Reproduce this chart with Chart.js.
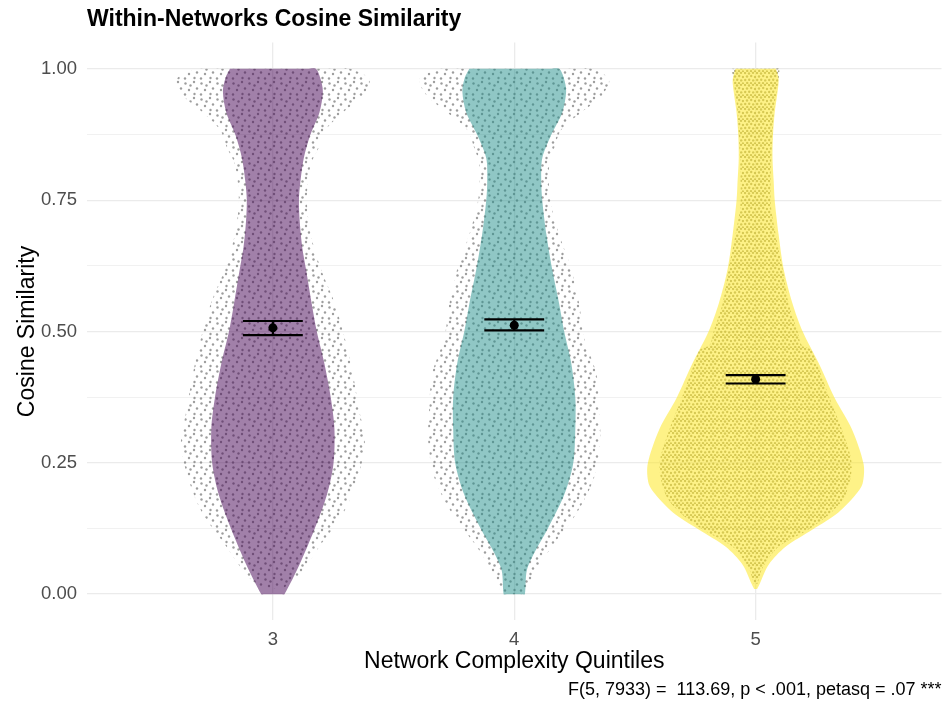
<!DOCTYPE html>
<html><head><meta charset="utf-8">
<script src="https://cdn.jsdelivr.net/npm/chart.js@4.4.1/dist/chart.umd.min.js"></script>
<style>html,body{margin:0;padding:0;background:#fff;}</style>
</head><body>
<canvas id="c" width="946" height="703"></canvas>
<script>
// ---------- data ----------
const categories = [3, 4, 5];
const titleText = 'Within-Networks Cosine Similarity';
const xTitle = 'Network Complexity Quintiles';
const yTitle = 'Cosine Similarity';
const caption = 'F(5, 7933) =  113.69, p < .001, petasq = .07 ***';
const yTickValues = [0, 0.125, 0.25, 0.375, 0.5, 0.625, 0.75, 0.875, 1.0];

// violin outlines: y levels and half-widths (density, in category units)
const v3Levels = [1.00, 0.983, 0.957, 0.917, 0.874, 0.83, 0.785, 0.75, 0.705, 0.659, 0.619, 0.553, 0.50, 0.44, 0.374, 0.315, 0.248, 0.189, 0.123, 0.056, 0.0];
const v3Width  = [0.178, 0.196, 0.207, 0.193, 0.155, 0.128, 0.114, 0.108, 0.112, 0.122, 0.137, 0.161, 0.182, 0.213, 0.240, 0.255, 0.251, 0.224, 0.172, 0.110, 0.048];
const v4Levels = [1.00, 0.983, 0.957, 0.917, 0.874, 0.83, 0.785, 0.75, 0.685, 0.619, 0.553, 0.50, 0.44, 0.374, 0.315, 0.248, 0.189, 0.123, 0.08, 0.045, 0.0];
const v4Width  = [0.186, 0.205, 0.215, 0.199, 0.153, 0.116, 0.112, 0.116, 0.133, 0.157, 0.186, 0.207, 0.236, 0.253, 0.253, 0.244, 0.207, 0.137, 0.085, 0.052, 0.044];
const v5Levels = [1.00, 0.98, 0.957, 0.917, 0.874, 0.83, 0.785, 0.75, 0.685, 0.619, 0.553, 0.50, 0.44, 0.374, 0.315, 0.248, 0.21, 0.189, 0.156, 0.123, 0.09, 0.056, 0.02, 0.01];
const v5Width  = [0.083, 0.095, 0.091, 0.079, 0.072, 0.070, 0.075, 0.079, 0.095, 0.116, 0.153, 0.195, 0.261, 0.327, 0.398, 0.447, 0.443, 0.414, 0.344, 0.236, 0.124, 0.054, 0.017, 0.006];

// jittered point clouds: y levels and half-spread (category units)
const p3Levels = [1.00, 0.98, 0.95, 0.917, 0.884, 0.85, 0.818, 0.752, 0.685, 0.619, 0.553, 0.487, 0.42, 0.354, 0.288, 0.222, 0.156, 0.089, 0.036, 0.01];
const p3Spread = [0.319, 0.40, 0.373, 0.29, 0.219, 0.19, 0.157, 0.141, 0.157, 0.199, 0.257, 0.298, 0.331, 0.356, 0.381, 0.352, 0.294, 0.19, 0.108, 0.04];
const p4Levels = [1.00, 0.98, 0.95, 0.917, 0.884, 0.85, 0.818, 0.752, 0.685, 0.619, 0.553, 0.487, 0.42, 0.354, 0.288, 0.222, 0.156, 0.089, 0.036, 0.0];
const p4Spread = [0.32, 0.393, 0.364, 0.277, 0.195, 0.166, 0.145, 0.149, 0.186, 0.236, 0.269, 0.29, 0.34, 0.352, 0.356, 0.331, 0.261, 0.153, 0.083, 0.05];
const p5Levels = [1.00, 0.917, 0.75, 0.685, 0.619, 0.553, 0.50, 0.475, 0.465, 0.44, 0.374, 0.315, 0.248, 0.189, 0.156, 0.123, 0.09, 0.05, 0.02];
const p5Spread = [0.099, 0.075, 0.062, 0.083, 0.112, 0.137, 0.174, 0.19, 0.232, 0.253, 0.306, 0.356, 0.398, 0.373, 0.315, 0.219, 0.095, 0.029, 0.008];

// means and confidence limits
const means  = [0.507, 0.512, 0.409];
const ciLow  = [0.493, 0.502, 0.401];
const ciHigh = [0.520, 0.523, 0.417];

// ---------- styling ----------
const FONT = "'Liberation Sans', Arial, Helvetica, sans-serif";
const violinColors = ['rgba(68,1,84,0.5)', 'rgba(33,144,140,0.5)', 'rgba(253,231,37,0.55)'];
const capHalf = 0.124;

const ctx = document.getElementById('c').getContext('2d');
function makePattern(size, dots, color, r) {
  const cv = document.createElement('canvas');
  cv.width = size; cv.height = size;
  const g = cv.getContext('2d');
  g.fillStyle = color;
  dots.forEach(([a, b]) => { g.beginPath(); g.arc(a, b, r, 0, Math.PI * 2); g.fill(); });
  return ctx.createPattern(cv, 'repeat');
}
const sparseDots = makePattern(16, [[2, 2], [9.5, 3.5], [5, 8.5], [13, 10], [2.5, 14], [9, 14.5], [14.5, 5.5]], 'rgba(115,115,115,0.7)', 1.2);
const denseDots = makePattern(12, [[1, 1], [5, 1.5], [9, 0.8], [3, 4.5], [7.2, 4], [11, 5], [1.2, 8], [5.2, 7.8], [9.2, 8.4], [3.2, 11], [7, 11.2], [11, 11.5]], 'rgba(115,110,70,0.62)', 1.2);

function outline(center, levels, half) {
  const n = levels.length;
  const left = levels.map((y, i) => ({ x: center - half[i], y }));
  const right = levels.map((y, i) => ({ x: center + half[i], y })).reverse();
  // short inner points at the ends keep flat top / bottom edges crisp
  const bot = [{ x: center - half[n - 1] * 0.8, y: levels[n - 1] }, { x: center + half[n - 1] * 0.8, y: levels[n - 1] }];
  const top = [{ x: center + half[0] * 0.8, y: levels[0] }, { x: center - half[0] * 0.8, y: levels[0] }];
  return left.concat(bot, right, top);
}
function shapeDataset(data, color, order) {
  return { type: 'line', data, fill: 'shape', backgroundColor: color, borderColor: 'rgba(0,0,0,0)',
           borderWidth: 0, pointRadius: 0, tension: 0.3, order };
}

const violinSets = [[v3Levels, v3Width], [v4Levels, v4Width], [v5Levels, v5Width]];
const cloudSets = [[p3Levels, p3Spread], [p4Levels, p4Spread], [p5Levels, p5Spread]];

const datasets = [];
datasets.push({ type: 'line', showLine: false, data: categories.map((c, i) => ({ x: c, y: means[i] })),
  pointRadius: 4.5, pointBackgroundColor: '#000', pointBorderColor: '#000', pointBorderWidth: 0, order: 0 });
const eb = [];
categories.forEach((c, i) => {
  eb.push({ x: c - capHalf, y: ciHigh[i] }, { x: c + capHalf, y: ciHigh[i] }, { x: c, y: null });
  eb.push({ x: c - capHalf, y: ciLow[i] }, { x: c + capHalf, y: ciLow[i] }, { x: c, y: null });
  eb.push({ x: c, y: ciLow[i] }, { x: c, y: ciHigh[i] }, { x: c, y: null });
});
datasets.push({ type: 'line', data: eb, borderColor: '#000', borderWidth: 2.2, pointRadius: 0, fill: false,
  spanGaps: false, tension: 0, order: 1 });
categories.forEach((c, i) => datasets.push(shapeDataset(outline(c, violinSets[i][0], violinSets[i][1]), violinColors[i], 2)));
categories.forEach((c, i) => datasets.push(shapeDataset(outline(c, cloudSets[i][0], cloudSets[i][1]), i === 2 ? denseDots : sparseDots, 3)));

const isMajor = v => Math.abs(v * 4 - Math.round(v * 4)) < 1e-6;

new Chart(ctx, {
  type: 'line',
  data: { datasets },
  options: {
    responsive: false, animation: false, events: [],
    layout: { padding: { left: 0, right: 3, top: 0, bottom: 0 } },
    plugins: {
      legend: { display: false }, tooltip: { enabled: false },
      title: { display: true, text: titleText, align: 'start', fullSize: false, color: '#000',
        font: { family: FONT, size: 23, weight: 'bold' }, padding: { top: 6, bottom: 9 } },
      subtitle: { display: true, text: caption, position: 'bottom', align: 'end', fullSize: false, color: '#000',
        font: { family: FONT, size: 18 }, padding: { top: 4, bottom: 2 } }
    },
    scales: {
      x: {
        type: 'linear', min: 2.23, max: 5.77,
        afterBuildTicks: s => { s.ticks = categories.map(v => ({ value: v })); },
        afterFit: s => { s.height = 55; },
        ticks: { color: '#4d4d4d', font: { family: FONT, size: 18.5 }, padding: 8, callback: v => String(v) },
        grid: { color: '#ebebeb', lineWidth: 1.3, drawTicks: false },
        border: { display: false },
        title: { display: true, text: xTitle, color: '#000', font: { family: FONT, size: 23 }, padding: 0 }
      },
      y: {
        type: 'linear', min: -0.05, max: 1.05,
        afterBuildTicks: s => { s.ticks = yTickValues.map(v => ({ value: v })); },
        afterFit: s => { s.width = 87; },
        ticks: { color: '#4d4d4d', font: { family: FONT, size: 18.5 }, padding: 10,
          callback: v => isMajor(v) ? v.toFixed(2) : '' },
        grid: { color: '#ebebeb', lineWidth: c => (c.tick && isMajor(c.tick.value)) ? 1.3 : 0.7, drawTicks: false },
        border: { display: false },
        title: { display: true, text: yTitle, color: '#000', font: { family: FONT, size: 23 }, padding: { top: 14, bottom: 0 } }
      }
    }
  }
});
</script>
</body></html>
